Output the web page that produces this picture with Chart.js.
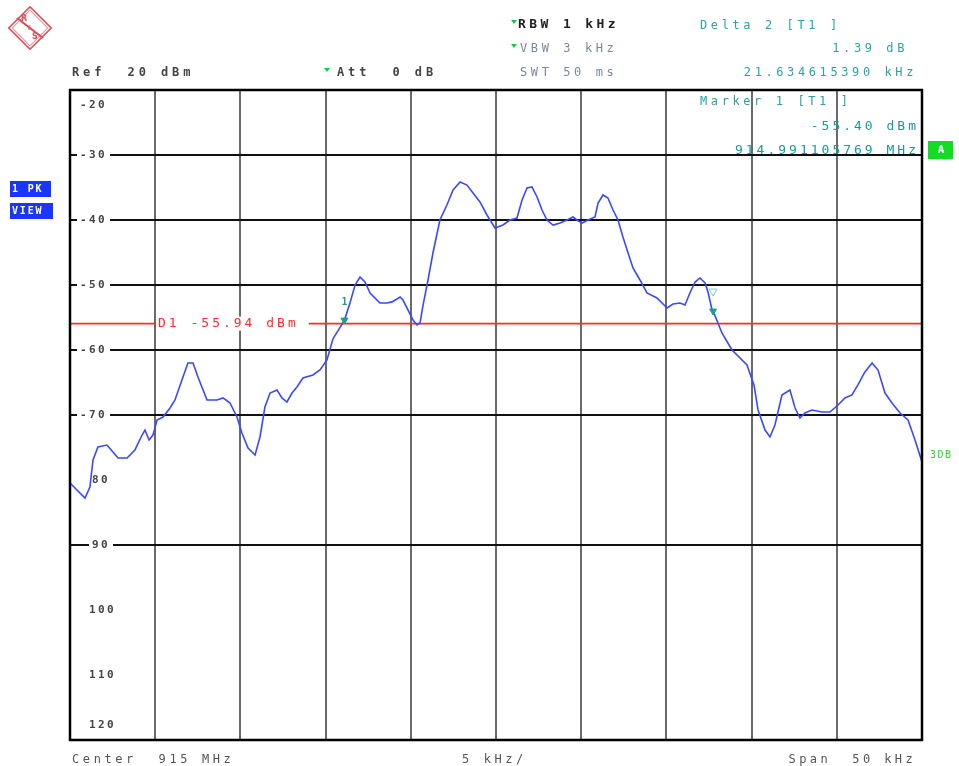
<!DOCTYPE html>
<html>
<head>
<meta charset="utf-8">
<title>Spectrum 915 MHz</title>
<script src="https://cdn.jsdelivr.net/npm/chart.js@4.4.1/dist/chart.umd.min.js"></script>
<style>
  html, body { margin: 0; padding: 0; background: #ffffff; }
  #wrap { width: 959px; height: 766px; }
</style>
</head>
<body>
<div id="wrap"><canvas id="spec" width="959" height="766"></canvas></div>
<script>
// Frequency offset from 915 MHz centre (kHz) and trace level (dBm)
const freqKHz = [
  -25.00, -24.12, -23.83, -23.65, -23.36, -22.83, -22.48, -22.18, -21.65, -21.19,
  -20.77, -20.60, -20.36, -20.13, -19.89, -19.54, -19.13, -18.84, -18.43, -18.08,
  -17.78, -17.49, -17.19, -16.96, -16.37, -16.02, -15.61, -15.20, -14.91, -14.55,
  -14.14, -13.85, -13.56, -13.26, -12.85, -12.56, -12.27, -11.97, -11.68, -11.33,
  -10.74, -10.33, -9.92, -9.57, -8.89, -8.57, -8.27, -7.98, -7.69, -7.39,
  -6.81, -6.40, -6.10, -5.63, -5.46, -5.16, -4.87, -4.64, -4.46, -4.28,
  -3.99, -3.70, -3.29, -2.88, -2.52, -2.11, -1.70, -1.35, -0.94, -0.53,
  -0.06, 0.41, 0.82, 1.23, 1.53, 1.82, 2.11, 2.41, 2.70, 2.99,
  3.35, 3.76, 4.17, 4.52, 4.75, 5.05, 5.40, 5.81, 5.99, 6.28,
  6.57, 6.87, 7.16, 7.45, 7.75, 8.04, 8.45, 8.86, 9.45, 10.04,
  10.39, 10.80, 11.09, 11.38, 11.68, 11.97, 12.27, 12.44, 12.68, 12.74,
  13.26, 13.85, 14.73, 15.14, 15.38, 15.79, 16.08, 16.37, 16.78, 17.25,
  17.55, 17.84, 18.13, 18.54, 19.13, 19.60, 20.07, 20.48, 20.89, 21.24,
  21.65, 22.07, 22.42, 22.83, 23.24, 23.71, 24.18, 24.59, 25.00
];
const levelDbm = [
  -80.46, -82.77, -81.08, -76.92, -74.92, -74.62, -75.69, -76.62, -76.62, -75.38,
  -73.08, -72.31, -73.85, -73.08, -70.77, -70.31, -68.92, -67.69, -64.62, -62.00,
  -62.00, -64.15, -66.15, -67.69, -67.69, -67.38, -68.15, -70.31, -72.77, -75.08,
  -76.15, -73.38, -68.77, -66.62, -66.15, -67.38, -68.00, -66.62, -65.69, -64.31,
  -63.85, -63.08, -61.54, -58.30, -55.40, -52.77, -50.00, -48.77, -49.54, -51.23,
  -52.77, -52.77, -52.60, -51.85, -52.31, -53.85, -55.38, -56.15, -55.85, -53.08,
  -49.23, -45.08, -40.00, -37.69, -35.38, -34.15, -34.62, -35.85, -37.23, -39.23,
  -41.23, -40.77, -40.00, -39.69, -36.92, -35.08, -34.92, -36.46, -38.46, -40.00,
  -40.77, -40.46, -40.00, -39.54, -40.00, -40.46, -40.00, -39.54, -37.38, -36.15,
  -36.62, -38.46, -40.00, -42.62, -45.08, -47.38, -49.23, -51.23, -52.00, -53.54,
  -52.92, -52.77, -53.08, -51.23, -49.54, -48.92, -49.69, -51.08, -53.85, -54.01,
  -57.38, -60.00, -62.31, -65.38, -69.23, -72.31, -73.38, -71.54, -66.92, -66.15,
  -68.92, -70.46, -69.69, -69.23, -69.54, -69.54, -68.46, -67.38, -66.92, -65.38,
  -63.38, -62.00, -63.08, -66.62, -68.15, -69.69, -70.77, -73.85, -77.23
];

// Level axis labels (dBm) as printed on the graticule
const yTickValues = [-20, -30, -40, -50, -60, -70, -80, -90, -100, -110, -120];
const yTickLabels = ['-20', '-30', '-40', '-50', '-60', '-70', '80', '90', '100', '110', '120'];
// Graticule rows that are left blank
const hiddenRows = [-80, -100, -110];

// Display line and markers
const displayLineDbm = -55.94;
const markerFreqKHz = [-8.894, 12.740];
const markerLevelDbm = [-55.40, -54.01];
const markerNames = ['1', '2'];

const MONO = '"DejaVu Sans Mono", "Liberation Mono", monospace';
const TEAL = '#2aa3a8';

function monoText(ctx, str, x, y, opts) {
  opts = opts || {};
  ctx.save();
  ctx.font = (opts.weight || 'normal') + ' ' + (opts.size || 13) + 'px ' + MONO;
  ctx.letterSpacing = (opts.spacing != null ? opts.spacing : 3.0) + 'px';
  ctx.fillStyle = opts.color || '#333';
  ctx.textBaseline = 'middle';
  ctx.textAlign = 'left';
  let w = ctx.measureText(str).width;
  let sx = x;
  if (opts.align === 'right') sx = x - w;
  else if (opts.align === 'center') sx = x - w / 2;
  if (opts.bg) {
    ctx.fillStyle = opts.bg;
    ctx.fillRect(sx - (opts.padL || 2), y - 7, w + (opts.padL || 2) + (opts.padR || 2), 14);
    ctx.fillStyle = opts.color || '#333';
  }
  ctx.fillText(str, sx, y);
  ctx.restore();
  return w;
}

const analyzerDecor = {
  id: 'analyzerDecor',
  beforeDatasetsDraw(chart) {
    const ctx = chart.ctx;
    const ys = chart.scales.y;
    // level labels on the graticule
    yTickValues.forEach((v, i) => {
      let py = ys.getPixelForValue(v);
      if (i === 0) py += 15;
      if (i === yTickValues.length - 1) py -= 15;
      const lbl = yTickLabels[i];
      let lx = 80;
      if (lbl.length === 2) lx = 92;
      else if (lbl.length === 3 && lbl[0] !== '-') lx = 89;
      monoText(ctx, lbl, lx, py, { size: 11, spacing: 2.4, color: '#444', weight: 'bold', bg: '#ffffff', padL: 3, padR: 3 });
    });
  },
  afterDatasetsDraw(chart) {
    const ctx = chart.ctx;
    const xs = chart.scales.x, ys = chart.scales.y;
    const a = chart.chartArea;

    // display line caption
    const dy = ys.getPixelForValue(displayLineDbm);
    monoText(ctx, 'D1 -55.94 dBm', 158, dy, { size: 13, spacing: 3.0, color: '#ff2a2a', bg: '#ffffff', padL: 2, padR: 10 });

    // marker captions
    ctx.save();
    ctx.font = 'bold 10px ' + MONO;
    ctx.fillStyle = '#1f9e8a';
    ctx.textAlign = 'center';
    ctx.textBaseline = 'middle';
    const m1x = xs.getPixelForValue(markerFreqKHz[0]);
    const m1y = ys.getPixelForValue(markerLevelDbm[0]);
    ctx.fillText(markerNames[0], m1x, m1y - 18);
    const m2x = xs.getPixelForValue(markerFreqKHz[1]);
    const m2y = ys.getPixelForValue(markerLevelDbm[1]);
    ctx.strokeStyle = '#7fd1c4';
    ctx.lineWidth = 1;
    ctx.beginPath();
    ctx.moveTo(m2x - 4, m2y - 22);
    ctx.lineTo(m2x + 4, m2y - 22);
    ctx.lineTo(m2x, m2y - 15);
    ctx.closePath();
    ctx.stroke();
    ctx.restore();

    // frame
    ctx.save();
    ctx.strokeStyle = '#000';
    ctx.lineWidth = 2.5;
    ctx.strokeRect(a.left, a.top, a.right - a.left, a.bottom - a.top);
    ctx.restore();
  },
  afterDraw(chart) {
    const ctx = chart.ctx;

    // instrument logo
    ctx.save();
    ctx.translate(30, 28);
    ctx.rotate(Math.PI / 4);
    ctx.strokeStyle = '#d9505a';
    ctx.lineWidth = 1.6;
    ctx.strokeRect(-15, -15, 30, 30);
    ctx.lineWidth = 0.8;
    ctx.strokeRect(-12.5, -12.5, 25, 25);
    ctx.restore();
    ctx.save();
    ctx.strokeStyle = '#d9505a';
    ctx.lineWidth = 2.2;
    ctx.beginPath();
    ctx.moveTo(17, 18); ctx.lineTo(43, 38);
    ctx.stroke();
    ctx.fillStyle = '#d9505a';
    ctx.font = 'bold 8px "DejaVu Sans"';
    ctx.textAlign = 'center';
    ctx.textBaseline = 'middle';
    ctx.fillText('R', 24, 19);
    ctx.fillText('S', 35, 37);
    ctx.font = '6px "DejaVu Sans"';
    ctx.fillText('&', 30, 28);
    ctx.restore();

    // header
    monoText(ctx, 'Ref  20 dBm', 72, 73, { color: '#444', weight: 'bold', size: 12, spacing: 3.9 });
    monoText(ctx, 'Att  0 dB', 337, 73, { color: '#444', weight: 'bold', size: 12, spacing: 3.9 });
    monoText(ctx, 'RBW 1 kHz', 518, 25, { color: '#222', weight: 'bold', size: 13, spacing: 3.4 });
    monoText(ctx, 'VBW 3 kHz', 520, 49, { color: '#7a8a99', size: 12, spacing: 3.6 });
    monoText(ctx, 'SWT 50 ms', 520, 73, { color: '#7a8a99', size: 12, spacing: 3.6 });

    // small green triangles ahead of coupled settings
    ctx.save();
    ctx.fillStyle = '#11cc44';
    [[514, 22], [514, 46], [327, 70]].forEach(p => {
      ctx.beginPath();
      ctx.moveTo(p[0] - 3, p[1] - 2);
      ctx.lineTo(p[0] + 3, p[1] - 2);
      ctx.lineTo(p[0], p[1] + 2);
      ctx.closePath();
      ctx.fill();
    });
    ctx.restore();

    // marker readouts
    monoText(ctx, 'Delta 2 [T1 ]', 700, 26, { color: TEAL, size: 12, spacing: 3.6 });
    monoText(ctx, '1.39 dB', 908, 49, { color: TEAL, size: 12, spacing: 3.6, align: 'right' });
    monoText(ctx, '21.634615390 kHz', 917, 73, { color: TEAL, size: 12, spacing: 3.6, align: 'right' });
    monoText(ctx, 'Marker 1 [T1 ]', 700, 102, { color: TEAL, size: 12, spacing: 3.6 });
    monoText(ctx, '-55.40 dBm', 919, 127, { color: '#169c9c', size: 13, spacing: 3.0, align: 'right' });
    monoText(ctx, '914.991105769 MHz', 919, 151, { color: '#169c9c', size: 13, spacing: 3.0, align: 'right' });

    // trace status boxes
    ctx.save();
    ctx.fillStyle = '#1836ff';
    ctx.fillRect(10, 181, 41, 16);
    ctx.fillRect(10, 203, 43, 16);
    ctx.fillStyle = '#11dd22';
    ctx.fillRect(928, 141, 25, 18);
    ctx.restore();
    monoText(ctx, '1 PK', 12, 189, { color: '#fff', weight: 'bold', size: 10, spacing: 1.8 });
    monoText(ctx, 'VIEW', 12, 211, { color: '#fff', weight: 'bold', size: 10, spacing: 1.8 });
    monoText(ctx, 'A', 941, 150, { color: '#fff', weight: 'bold', size: 11, spacing: 0, align: 'center' });
    monoText(ctx, '3DB', 930, 455, { color: '#22dd22', size: 10, spacing: 1.5 });

    // footer
    monoText(ctx, 'Center  915 MHz', 72, 760, { color: '#555', size: 12, spacing: 3.6 });
    monoText(ctx, '5 kHz/', 462, 760, { color: '#555', size: 12, spacing: 3.6 });
    monoText(ctx, 'Span  50 kHz', 916, 760, { color: '#555', size: 12, spacing: 3.4, align: 'right' });
  }
};

const tracePoints = freqKHz.map((f, i) => ({ x: f, y: levelDbm[i] }));
const markerPoints = markerFreqKHz.map((f, i) => ({ x: f, y: markerLevelDbm[i] }));
const displayLinePoints = [{ x: -25, y: displayLineDbm }, { x: 25, y: displayLineDbm }];

new Chart(document.getElementById('spec'), {
  type: 'line',
  data: {
    datasets: [
      {
        label: 'Markers',
        data: markerPoints,
        showLine: false,
        pointStyle: 'triangle',
        rotation: 180,
        pointRadius: 4,
        backgroundColor: '#1f9e8a',
        borderColor: '#1f9e8a',
        order: 0
      },
      {
        label: 'Trace 1',
        data: tracePoints,
        borderColor: '#3a48ff',
        borderWidth: 1.6,
        pointRadius: 0,
        tension: 0,
        fill: false,
        order: 1
      },
      {
        label: 'D1',
        data: displayLinePoints,
        borderColor: '#ff2a2a',
        borderWidth: 1.6,
        pointRadius: 0,
        fill: false,
        order: 2
      }
    ]
  },
  options: {
    responsive: false,
    animation: false,
    devicePixelRatio: 1,
    layout: { padding: { left: 70, right: 37, top: 90, bottom: 26 } },
    plugins: { legend: { display: false }, tooltip: { enabled: false }, title: { display: false } },
    scales: {
      x: {
        type: 'linear',
        min: -25,
        max: 25,
        afterFit(s) { s.height = 0; },
        ticks: { display: false, stepSize: 5 },
        grid: { drawTicks: false, color: '#6a6a6a', lineWidth: 2 },
        border: { display: false }
      },
      y: {
        type: 'linear',
        min: -120,
        max: -20,
        afterFit(s) { s.width = 0; },
        ticks: { display: false, stepSize: 10 },
        grid: {
          drawTicks: false,
          lineWidth: 2,
          color(c) {
            const v = c.tick ? c.tick.value : null;
            return hiddenRows.includes(v) ? 'rgba(0,0,0,0)' : '#111';
          }
        },
        border: { display: false }
      }
    }
  },
  plugins: [analyzerDecor]
});
</script>
</body>
</html>
